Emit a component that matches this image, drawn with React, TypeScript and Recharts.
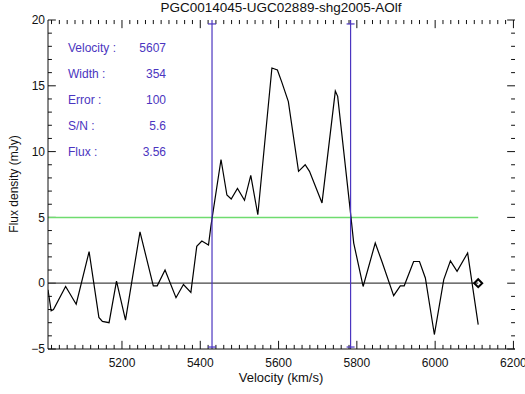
import {
  ComposedChart,
  Line,
  XAxis,
  YAxis,
  Scatter,
  ReferenceLine,
  Customized,
} from "recharts";

// spectrum
const velocity = [
  5011, 5019, 5025, 5056, 5083, 5116, 5141, 5150, 5167, 5186, 5209, 5246,
  5280, 5290, 5310, 5338, 5357, 5376, 5391, 5404, 5421, 5427, 5431, 5453,
  5468, 5479, 5495, 5513, 5529, 5547, 5583, 5597, 5608, 5625, 5651, 5668,
  5679, 5711, 5745, 5751, 5781, 5785, 5792, 5816, 5847, 5864, 5894, 5911,
  5921, 5945, 5960, 5975, 5998, 6022, 6039, 6056, 6083, 6110,
];
const flux = [
  -0.5, -2.1, -2.0, -0.25, -1.6, 2.4, -2.6, -2.9, -3.0, 0.15, -2.8, 3.9,
  -0.2, -0.2, 1.0, -1.1, -0.1, -0.7, 2.8, 3.2, 2.9, 4.3, 5.1, 9.4,
  6.7, 6.4, 7.2, 6.3, 8.2, 5.2, 16.35, 16.2, 15.3, 13.8, 8.5, 9.0,
  8.5, 6.1, 14.6, 14.2, 6.1, 5.0, 3.05, -0.25, 3.05, 1.65, -0.95, -0.2,
  -0.2, 1.65, 1.65, 0.4, -3.9, 0.27, 1.7, 0.9, 2.3, -3.15,
];

const widthEdges = [5430, 5784];
const baseRange = [5011, 6110];
const signalLevel = 5;

const xMajor = [5200, 5400, 5600, 5800, 6000, 6200];
const yMajor = [-5, 0, 5, 10, 15, 20];
const xMinor = Array.from({ length: 60 }, (_, i) => 5020 + i * 20);
const yMinor = Array.from({ length: 26 }, (_, i) => -5 + i);

const infoLabels = ["Velocity :", "Width :", "Error :", "S/N :", "Flux :"];
const infoValues = ["5607", "354", "100", "5.6", "3.56"];

const FONT = "'Liberation Sans', Arial, sans-serif";
const INK = "#111";
const PURPLE = "#4b35c0";
const xDomain = [5011, 6204];
const yDomain = [-5, 20];

const spectrum = velocity.map((v, i) => ({ v, f: flux[i] }));
const greenLine = baseRange.map((v) => ({ v, f: signalLevel }));
const zeroLine = baseRange.map((v) => ({ v, f: 0 }));
const endMarker = [{ v: baseRange[1], f: 0 }];
const edgeMarks = widthEdges.flatMap((v) => [
  { v, f: 19.7 },
  { v, f: -4.85 },
]);

// inward tick marks (IDL style), lengths in data units (~8px major, ~4px minor)
const xTickLen = (t: number) => (xMajor.includes(t) ? 0.62 : 0.31);
const yTickLen = (t: number) => (yMajor.includes(t) ? 20 : 10);

const Diamond = (props: any) => {
  const { cx, cy } = props;
  return (
    <polygon
      points={`${cx - 4},${cy} ${cx},${cy - 4} ${cx + 4},${cy} ${cx},${cy + 4}`}
      fill="none"
      stroke="#000"
      strokeWidth={2}
    />
  );
};

const Dash = (props: any) => {
  const { cx, cy } = props;
  return <line x1={cx - 4} y1={cy} x2={cx + 4} y2={cy} stroke={PURPLE} strokeWidth={1.2} />;
};

const Texts = () => (
  <g fontFamily={FONT}>
    <text x={281} y={12} textAnchor="middle" fontSize={13.5} fill={INK}>
      PGC0014045-UGC02889-shg2005-AOlf
    </text>
    <text x={281} y={382} textAnchor="middle" fontSize={13} fill={INK}>
      Velocity (km/s)
    </text>
    <text
      x={18}
      y={184}
      textAnchor="middle"
      fontSize={12}
      fill={INK}
      transform="rotate(-90 18 184)"
    >
      Flux density (mJy)
    </text>
    {infoLabels.map((t, i) => (
      <text key={t} x={68} y={52 + i * 26} fontSize={12} fill={PURPLE}>
        {t}
      </text>
    ))}
    {infoValues.map((t, i) => (
      <text key={t} x={166} y={52 + i * 26} fontSize={12} textAnchor="end" fill={PURPLE}>
        {t}
      </text>
    ))}
  </g>
);

const tickFont = { fontSize: 12, fill: INK, fontFamily: FONT };

export default function App() {
  return (
    <div style={{ position: "absolute", left: 0, top: 0, background: "#fff" }}>
      <ComposedChart
        width={525}
        height={394}
        margin={{ top: 20, right: 10, left: 0, bottom: 0 }}
      >
        <XAxis
          dataKey="v"
          type="number"
          domain={xDomain}
          allowDataOverflow
          ticks={xMajor}
          interval={0}
          tickSize={0}
          tickMargin={9}
          tickLine={false}
          tick={tickFont}
          height={45}
          axisLine={{ stroke: INK }}
        />
        <XAxis
          xAxisId="top"
          orientation="top"
          dataKey="v"
          type="number"
          domain={xDomain}
          allowDataOverflow
          ticks={xMajor}
          tick={false}
          tickLine={false}
          height={0}
          axisLine={{ stroke: INK }}
        />
        <YAxis
          type="number"
          domain={yDomain}
          allowDataOverflow
          ticks={yMajor}
          interval={0}
          tickSize={0}
          tickMargin={3}
          tickLine={false}
          tick={tickFont}
          tickFormatter={(v: number) => (v < 0 ? "\u2212" + Math.abs(v) : String(v))}
          width={48}
          axisLine={{ stroke: INK }}
        />
        <YAxis
          yAxisId="right"
          orientation="right"
          type="number"
          domain={yDomain}
          allowDataOverflow
          ticks={yMajor}
          tick={false}
          tickLine={false}
          width={0}
          axisLine={{ stroke: INK }}
        />

        {xMinor.map((t) => (
          <ReferenceLine
            key={"b" + t}
            segment={[{ x: t, y: yDomain[0] }, { x: t, y: yDomain[0] + xTickLen(t) }]}
            stroke={INK}
            ifOverflow="visible"
          />
        ))}
        {xMinor.map((t) => (
          <ReferenceLine
            key={"t" + t}
            segment={[{ x: t, y: yDomain[1] }, { x: t, y: yDomain[1] - xTickLen(t) }]}
            stroke={INK}
            ifOverflow="visible"
          />
        ))}
        {yMinor.map((t) => (
          <ReferenceLine
            key={"l" + t}
            segment={[{ x: xDomain[0], y: t }, { x: xDomain[0] + yTickLen(t), y: t }]}
            stroke={INK}
            ifOverflow="visible"
          />
        ))}
        {yMinor.map((t) => (
          <ReferenceLine
            key={"r" + t}
            segment={[{ x: xDomain[1], y: t }, { x: xDomain[1] - yTickLen(t), y: t }]}
            stroke={INK}
            ifOverflow="visible"
          />
        ))}

        <Line data={zeroLine} dataKey="f" stroke="#444" strokeWidth={1.2}
          dot={false} isAnimationActive={false} />
        <Line data={greenLine} dataKey="f" stroke="#6fdc6f" strokeWidth={1.5}
          dot={false} isAnimationActive={false} />
        <Line data={spectrum} dataKey="f" stroke="#000" strokeWidth={1.2}
          dot={false} isAnimationActive={false} />
        <Line data={[{ v: widthEdges[0], f: -5 }, { v: widthEdges[0], f: 20 }]} dataKey="f"
          stroke={PURPLE} strokeWidth={1.2} dot={false} isAnimationActive={false} />
        <Line data={[{ v: widthEdges[1], f: -5 }, { v: widthEdges[1], f: 20 }]} dataKey="f"
          stroke={PURPLE} strokeWidth={1.2} dot={false} isAnimationActive={false} />

        <Scatter data={edgeMarks} dataKey="f" shape={<Dash />} isAnimationActive={false} />
        <Scatter data={endMarker} dataKey="f" shape={<Diamond />} isAnimationActive={false} />
        <Customized component={Texts} />
      </ComposedChart>
    </div>
  );
}
